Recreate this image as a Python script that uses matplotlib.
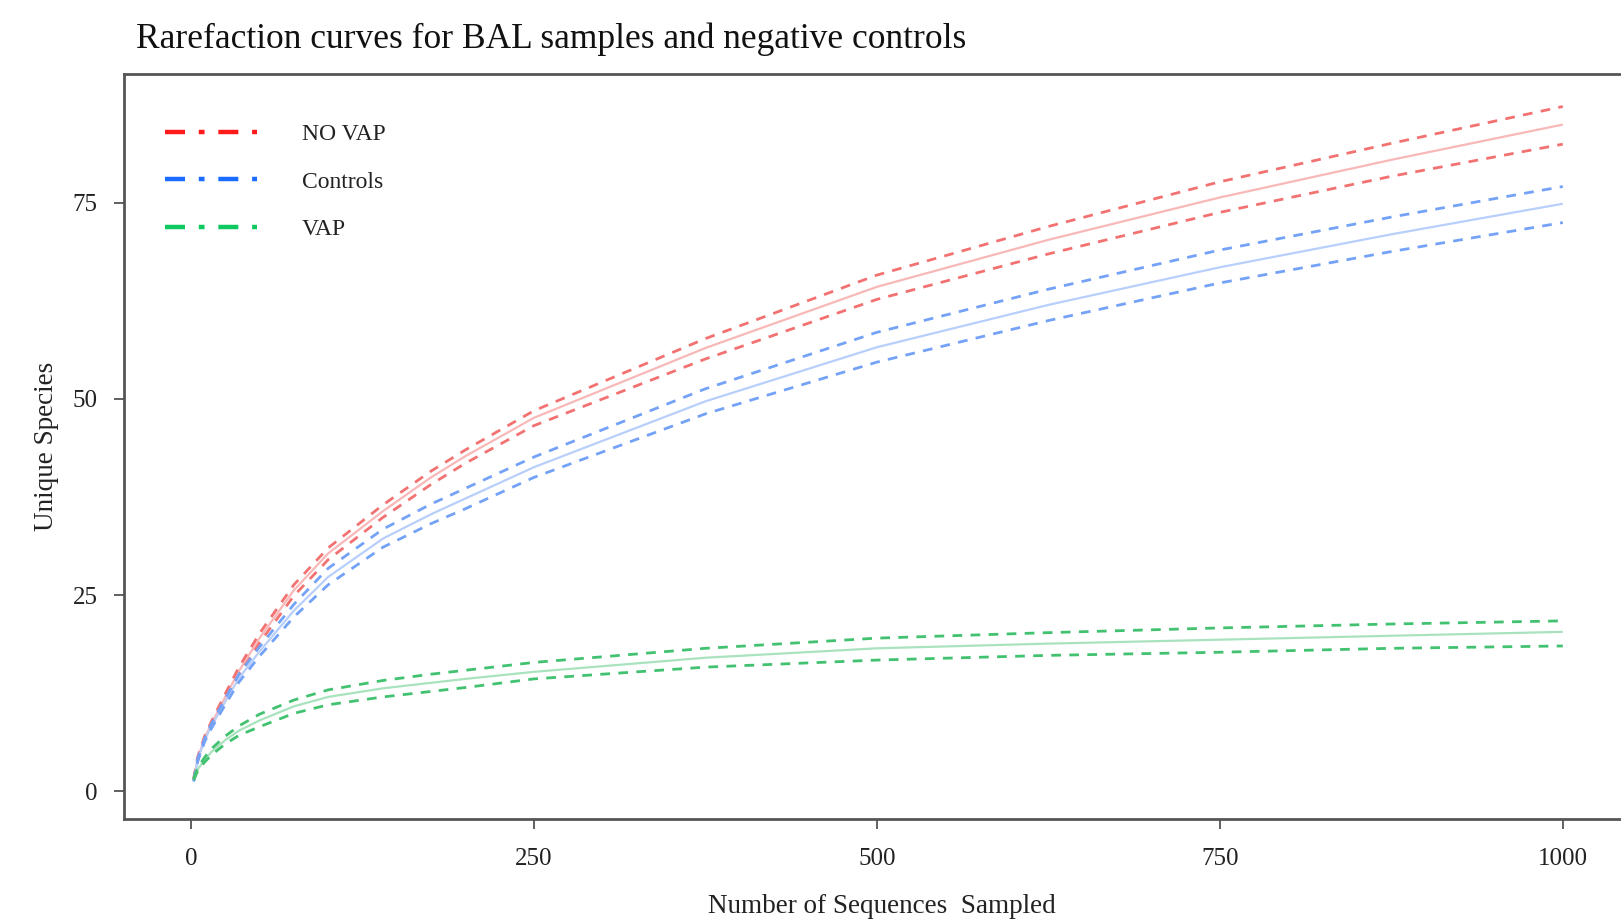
import matplotlib
matplotlib.use("Agg")
import matplotlib.pyplot as plt
from matplotlib.lines import Line2D

plt.rcParams['font.family'] = ['Liberation Serif', 'DejaVu Serif']

# sequences sampled
seqs = [2, 5, 10, 15, 25, 35, 50, 75, 100, 140, 175, 200, 250, 375, 500, 625, 750, 875, 1000]

# NO VAP
novap_mean = [1.5, 4.2, 6.8, 8.6, 12.0, 15.3, 19.5, 25.6, 30.3, 35.7, 40.0, 42.7, 47.6, 56.5, 64.3, 70.3, 75.7, 80.5, 85.0]
novap_hi = [1.6, 4.4, 7.0, 8.9, 12.4, 15.8, 20.1, 26.3, 31.0, 36.5, 40.8, 43.5, 48.5, 57.7, 65.8, 72.0, 77.7, 82.6, 87.3]
novap_lo = [1.4, 4.0, 6.6, 8.3, 11.6, 14.8, 18.9, 24.9, 29.5, 34.9, 39.1, 41.8, 46.6, 55.1, 62.7, 68.5, 73.8, 78.4, 82.5]

# Controls
ctrl_mean = [1.3, 4.0, 6.5, 8.3, 11.4, 14.4, 17.8, 23.0, 27.3, 32.2, 35.3, 37.3, 41.3, 49.7, 56.6, 62.0, 66.8, 71.0, 74.9]
ctrl_hi = [1.4, 4.2, 6.7, 8.6, 11.8, 14.9, 18.4, 23.8, 28.4, 33.4, 36.6, 38.6, 42.6, 51.3, 58.5, 64.0, 69.0, 73.2, 77.1]
ctrl_lo = [1.2, 3.8, 6.3, 8.0, 11.0, 13.9, 17.2, 22.2, 26.3, 31.1, 34.1, 36.0, 40.0, 48.1, 54.7, 60.0, 64.8, 68.8, 72.5]

# VAP
vap_mean = [1.5, 2.8, 4.0, 5.0, 6.5, 7.7, 9.0, 10.8, 12.0, 13.1, 13.8, 14.3, 15.2, 17.0, 18.2, 18.8, 19.3, 19.8, 20.3]
vap_hi = [1.6, 3.0, 4.3, 5.4, 7.0, 8.3, 9.8, 11.6, 12.9, 14.1, 14.9, 15.4, 16.4, 18.2, 19.5, 20.2, 20.8, 21.3, 21.7]
vap_lo = [1.4, 2.6, 3.7, 4.6, 6.0, 7.1, 8.2, 9.9, 11.0, 12.0, 12.7, 13.2, 14.3, 15.8, 16.7, 17.3, 17.7, 18.2, 18.5]

groups = ["NO VAP", "Controls", "VAP"]
legend_colors = ["#ff1a1a", "#1a6bff", "#10c860"]
band_colors = ["#f27272", "#74a2f7", "#42c270"]
mean_colors = ["#f8b8b8", "#b8cffb", "#a9e3be"]

fig = plt.figure(figsize=(16.21, 9.19), dpi=100)
ax = fig.add_axes([0.0765, 0.1088, 0.935, 0.8107])

series = [(novap_mean, novap_hi, novap_lo),
          (ctrl_mean, ctrl_hi, ctrl_lo),
          (vap_mean, vap_hi, vap_lo)]
for (m, hi, lo), bc, mc in zip(series, band_colors, mean_colors):
    ax.plot(seqs, m, color=mc, lw=1.6, solid_capstyle='butt')
    ax.plot(seqs, hi, color=bc, lw=2.0, linestyle=(0, (3.5, 3)))
    ax.plot(seqs, lo, color=bc, lw=2.0, linestyle=(0, (3.5, 3)))

ax.set_xlim(-48.8, 1056)
ax.set_ylim(-3.57, 91.45)
ax.set_xticks([0, 250, 500, 750, 1000])
ax.set_yticks([0, 25, 50, 75])
ax.tick_params(axis='both', direction='out', length=7, width=1.2, color='#444444',
               labelsize=18, labelcolor='#222222')
ax.tick_params(axis='x', pad=14)
ax.tick_params(axis='y', pad=12)

for side in ['left', 'bottom', 'top']:
    ax.spines[side].set_color('#555555')
    ax.spines[side].set_linewidth(2.0)
ax.spines['right'].set_visible(False)

ax.set_xlabel("Number of Sequences  Sampled", fontsize=19.5, color='#222222', labelpad=17)
ax.set_ylabel("Unique Species", fontsize=19.5, color='#222222', labelpad=10)

fig.text(0.084, 0.957, "Rarefaction curves for BAL samples and negative controls",
         fontsize=25.5, color='#111111', va='center', ha='left')

handles = [Line2D([0], [0], color=c, lw=3.2, linestyle=(0, (4.5, 3.1, 1.3, 3.1)))
           for c in legend_colors]
ax.legend(handles, groups, loc='upper left', bbox_to_anchor=(0.013, 0.962),
          frameon=False, fontsize=17, handlelength=3.9, handletextpad=1.9,
          labelspacing=1.1, labelcolor='#222222')

fig.savefig("out.png", dpi=100)
